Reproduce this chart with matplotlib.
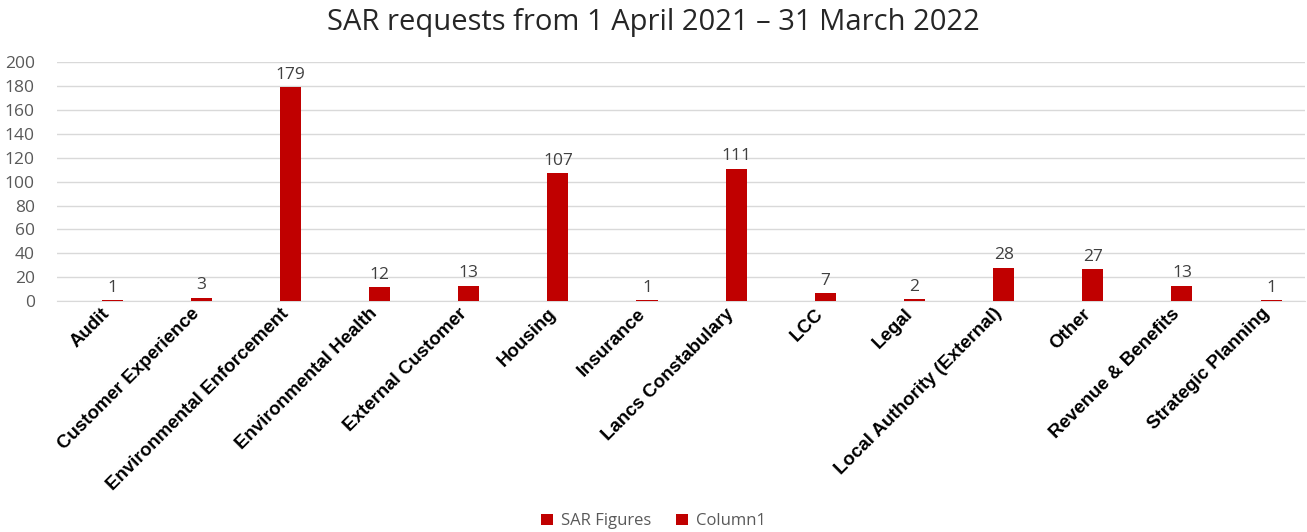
import numpy as np
import matplotlib.pyplot as plt
from matplotlib.patches import Patch

# data
categories = ["Audit", "Customer Experience", "Environmental Enforcement",
              "Environmental Health", "External Customer", "Housing",
              "Insurance", "Lancs Constabulary", "LCC", "Legal",
              "Local Authority (External)", "Other", "Revenue & Benefits",
              "Strategic Planning"]
sar_figures = [1, 3, 179, 12, 13, 107, 1, 111, 7, 2, 28, 27, 13, 1]
yticks = [0, 20, 40, 60, 80, 100, 120, 140, 160, 180, 200]

red = "#C00000"
grey = "#595959"

fig = plt.figure(figsize=(13.07, 5.32), dpi=100)
ax = fig.add_axes([0.0436, 0.434, 0.955, 0.449])

x = np.arange(len(categories))
bw = 0.236
bars = ax.bar(x, sar_figures, width=bw, align="edge", color=red, zorder=3)

# data labels
for b, v in zip(bars, sar_figures):
    ax.text(b.get_x() + b.get_width() / 2, v + 3.5, str(v), ha="center", va="bottom",
            fontsize=12.5, color="#404040", family="Open Sans")

ax.set_xlim(-0.5, len(categories) - 0.5)
ax.set_ylim(0, 200)
ax.set_yticks(yticks)
ax.set_yticklabels([str(t) for t in yticks], fontsize=12.5, color=grey, family="Open Sans")
ax.set_xticks(x)
ax.set_xticklabels(categories, rotation=45, ha="right", rotation_mode="anchor",
                   fontsize=13.5, fontweight="bold", family="Liberation Sans")
ax.tick_params(axis="both", length=0)
ax.tick_params(axis="y", pad=16)
ax.tick_params(axis="x", pad=3)

ax.grid(axis="y", color="#D9D9D9", linewidth=1, zorder=0)
for s in ["top", "right", "left"]:
    ax.spines[s].set_visible(False)
ax.spines["bottom"].set_color("#D9D9D9")

fig.text(0.5, 0.957, "SAR requests from 1 April 2021 \u2013 31 March 2022", ha="center",
         va="center", fontsize=21, color="#262626", family="Open Sans")

handles = [Patch(facecolor=red, label="SAR Figures"), Patch(facecolor=red, label="Column1")]
fig.legend(handles=handles, loc="center", bbox_to_anchor=(0.5, 0.02), ncol=2,
           frameon=False, prop={"family": "Open Sans", "size": 12},
           handlelength=0.7, handleheight=0.7, columnspacing=1.5, handletextpad=0.5,
           labelcolor=grey)

fig.savefig("out.png", dpi=100)
